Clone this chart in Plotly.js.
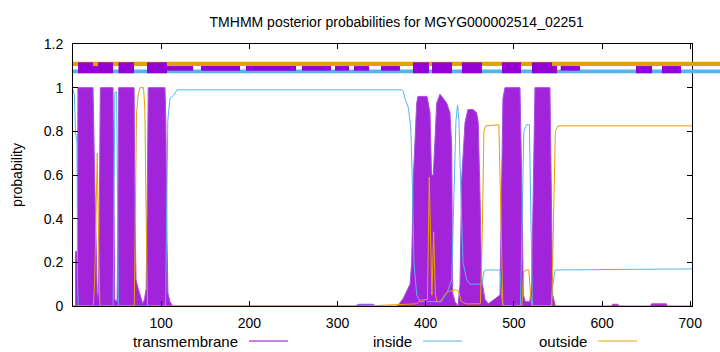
<!DOCTYPE html>
<html><head><meta charset="utf-8">
<script src="https://cdn.plot.ly/plotly-3.0.1.min.js"></script>
<style>html,body{margin:0;padding:0;background:#fff}#chart{width:720px;height:352px}</style>
</head><body><div id="chart"></div>
<script>
// residue positions and posterior probabilities
const tmX = [0,2.8,3.0,5.0,5.6,22.7,24.5,26,27.5,29,30,31,45.4,46.3,47.3,50,50.8,51.8,69.3,70.3,71.5,74,77,79,81,83,84,85.3,104.3,105.3,106.6,107.6,110,113,320,324,340,344,368,370,374.6,382.2,384.1,385.9,389.8,391.2,401.5,404.9,406.6,408.6,412.5,416.2,418.1,423.8,427.5,429.5,430.6,433.2,436.6,438.9,440.8,444.6,447.9,453.6,457.8,459.6,461.6,463.5,467.2,471,484.2,486.2,487.6,489.9,506.9,508.8,510.7,513,518,520.2,522,523.9,540.9,542.5,544,547,611,612,618,619,655,656,673,674,702];
const tmY = [0,0,0.25,0.25,1,1,0.6,0.25,0.06,0.04,0.4,1,1,0.4,0.03,0.02,0.3,1,1,0.4,0.12,0.08,0.03,0.01,0.03,0.08,0.4,1,1,0.85,0.3,0.06,0.02,0,0,0.008,0.008,0,0,0.01,0.035,0.1,0.2,0.58,0.93,0.96,0.96,0.885,0.6,0.6,0.93,0.97,0.96,0.93,0.885,0.73,0.06,0.02,0,0.1,0.58,0.84,0.9,0.9,0.885,0.84,0.5,0.12,0.03,0.01,0.05,0.58,0.95,1,1,0.6,0.05,0.02,0.02,0.1,0.6,1,1,0.6,0.05,0,0,0.008,0.008,0,0,0.01,0.01,0,0];

const inX = [0,1.5,2.8,4.5,5.3,6,45.5,46.5,47.5,49.5,50.5,51.5,105,106.5,107.5,110,114,118,372.7,374.6,376.5,380.2,383,384.8,386.7,389.8,393.5,416.2,424.1,429.5,432.1,434.3,436.1,437.7,440,442.3,446.5,450.2,463.8,466.1,468.4,484.2,485.9,487.6,507.4,509.6,511.3,514.2,517.6,519.3,521.1,542.1,544.3,546.6,702];
const inY = [0.99,0.97,0.8,0.75,0.1,0,0,0.6,0.98,0.98,0.5,0,0,0.6,0.85,0.95,0.965,0.99,0.99,0.985,0.95,0.91,0.82,0.58,0.2,0.05,0.02,0.02,0.06,0.12,0.5,0.85,0.92,0.85,0.5,0.2,0.12,0.1,0.1,0.16,0.165,0.165,0.05,0,0,0.5,0.8,0.83,0.83,0.4,0,0,0.1,0.165,0.17];

const outX = [0,23,24.5,25.5,27.5,29,30.5,69.5,70.5,72,74,76,80,81.5,83,84.5,330,360,390,394,402,404,405.5,407,409,411,413,418,421,425,434,437,440.5,446,462,464,466,468,483,485.5,487.5,509,511,513,517,519,520.5,543,545,547,550,702];
const outY = [0,0,0.1,0.35,0.7,0.3,0,0,0.5,0.88,0.97,1,1,0.9,0.4,0,0,0.006,0.01,0.027,0.03,0.59,0.3,0.05,0.34,0.05,0.02,0.02,0.05,0.065,0.075,0.07,0.02,0.01,0.01,0.3,0.8,0.825,0.83,0.3,0,0,0.15,0.165,0.165,0.05,0,0,0.4,0.8,0.825,0.825];

// topology strip segments [start, end] in residues
const segFull = [[5.7,22.7],[28.4,45.4],[51.6,69.2],[83.9,106.6],[385.6,403.7],[407.1,429.8],[441.1,463.8],[486.5,508.1],[520.5,543.2]];
const segLow = [[22.7,28.4],[543.2,548.9],[638.5,656.7],[668,689.5]];
const segThin = [[106.6,136.1],[145.2,189.4],[196.2,252.9],[259.7,292.6],[297.1,313],[318.7,335.7],[349.3,370.8],[553.1,574.9]];

const xTicks = [100,200,300,400,500,600,700];
const yTicks = [0,0.2,0.4,0.6,0.8,1,1.2];
const legendNames = ['transmembrane','inside','outside'];

const PURPLE='#9400d3', BLUE='#56b4e9', ORANGE='#e69f00';
const FONT='"Liberation Sans", Arial, sans-serif';

const traces = [
  {x:tmX,y:tmY,type:'scatter',mode:'lines',fill:'tozeroy',fillcolor:'#a224da',line:{color:'#a84ede',width:1},showlegend:false,hoverinfo:'skip'},
  {x:inX,y:inY,type:'scatter',mode:'lines',line:{color:BLUE,width:1},showlegend:false,hoverinfo:'skip'},
  {x:outX,y:outY,type:'scatter',mode:'lines',line:{color:ORANGE,width:1},showlegend:false,hoverinfo:'skip'}
];

const shapes = [];
const xr = 1.05;
shapes.push({type:'rect',xref:'paper',yref:'y',x0:0,x1:xr,y0:1.099,y1:1.119,fillcolor:ORANGE,line:{width:0}});
shapes.push({type:'rect',xref:'paper',yref:'y',x0:0,x1:xr,y0:1.066,y1:1.083,fillcolor:BLUE,line:{width:0}});
segThin.forEach(s=>shapes.push({type:'rect',xref:'x',yref:'y',x0:s[0],x1:s[1],y0:1.078,y1:1.099,fillcolor:PURPLE,line:{width:0}}));
segLow.forEach(s=>shapes.push({type:'rect',xref:'x',yref:'y',x0:s[0],x1:s[1],y0:1.066,y1:1.099,fillcolor:PURPLE,line:{width:0}}));
segFull.forEach(s=>shapes.push({type:'rect',xref:'x',yref:'y',x0:s[0],x1:s[1],y0:1.066,y1:1.116,fillcolor:PURPLE,line:{width:0}}));

// legend (text then sample line, gnuplot style)
const legTextRight=[240,414,589], legLine=[[249,288],[423,462],[598,637]], legCol=[PURPLE,BLUE,ORANGE];
const px2paper = p => (p-73)/619;
const legY = (306-341)/262;
const annotations = [];
legendNames.forEach((n,i)=>{
  annotations.push({text:n,xref:'paper',yref:'paper',x:px2paper(legTextRight[i]),y:legY,xanchor:'right',yanchor:'middle',showarrow:false,font:{family:FONT,size:15,color:'#000'}});
  shapes.push({type:'line',xref:'paper',yref:'paper',x0:px2paper(legLine[i][0]),x1:px2paper(legLine[i][1]),y0:legY,y1:legY,line:{color:legCol[i],width:1}});
});

const layout = {
  width:720,height:352,
  margin:{l:73,r:28,t:44,b:46,pad:0},
  paper_bgcolor:'#fff',plot_bgcolor:'#fff',
  font:{family:FONT,size:14,color:'#000'},
  title:{text:'TMHMM posterior probabilities for MGYG000002514_02251',font:{family:FONT,size:14,color:'#000'},x:0.551,xref:'container',xanchor:'center',y:1-22/352,yref:'container',yanchor:'middle'},
  xaxis:{range:[0,702],tickvals:xTicks,ticks:'inside',ticklen:5,tickcolor:'#000',showline:true,linecolor:'#000',linewidth:1,mirror:'ticks',showgrid:false,zeroline:false,tickfont:{family:FONT,size:14},ticklabelstandoff:4},
  yaxis:{range:[0,1.2],tickvals:yTicks,ticks:'inside',ticklen:5,tickcolor:'#000',showline:true,linecolor:'#000',linewidth:1,mirror:'ticks',showgrid:false,zeroline:false,tickfont:{family:FONT,size:14},ticklabelstandoff:6,
    title:{text:'probability',font:{family:FONT,size:14},standoff:17}},
  showlegend:false,
  shapes:shapes,
  annotations:annotations
};
Plotly.newPlot('chart',traces,layout,{staticPlot:true});
</script></body></html>
